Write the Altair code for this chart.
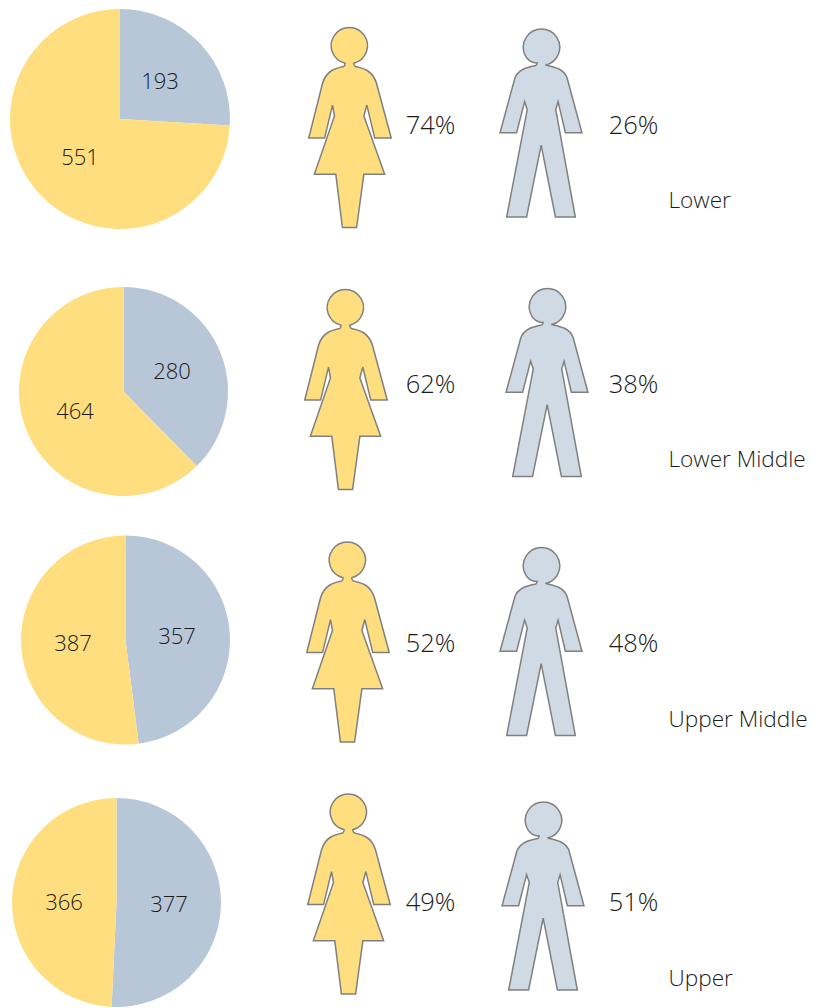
import math
import altair as alt
import pandas as pd

# ---- values ----
ROWS = ["Lower", "Lower Middle", "Upper Middle", "Upper"]
MEN = [193, 280, 357, 377]
WOMEN = [551, 464, 387, 366]
WOMEN_PCT = ["74%", "62%", "52%", "49%"]
MEN_PCT = ["26%", "38%", "48%", "51%"]

# ---- layout, in reference pixels ----
PIE_CX = [120, 123.5, 125.5, 116.5]
PIE_CY = [119, 391.5, 640, 902.5]
PIE_R = [110, 104.5, 104.5, 104.5]
MEN_LX = [160, 172, 177, 169]
MEN_LY = [82, 372, 637, 905]
WOMEN_LX = [80, 75, 73, 64]
WOMEN_LY = [158, 412, 644, 903]
WOMAN_CX = [350, 346, 348, 349]
WOMAN_CY = [128, 390, 642.5, 894.5]
MAN_CX = [541, 547, 541, 543]
MAN_CY = [123, 382.5, 641.5, 896]
PCT_Y = [126, 385, 644, 903]
PCT_WX = 430.5
PCT_MX = 633.5
ROW_LX = 668.5
ROW_LY = [201, 460, 720, 979]

YELLOW = "#FFDE80"
PIE_BLUE = "#B7C7D7"
MAN_BLUE = "#CFDAE4"
OUTLINE = "#808080"
INK = "#1C1C1C"
FONT = "Open Sans"

W, H = 803, 1000
xs = alt.Scale(domain=[8, 8 + W], range=[0, W])
ys = alt.Scale(domain=[8, 8 + H], range=[0, H])
X = lambda f: alt.X(f, type="quantitative", scale=xs, axis=None)
Y = lambda f: alt.Y(f, type="quantitative", scale=ys, axis=None)


def arc(cx, cy, r, a0, a1, n=6):
    out = []
    step = (a1 - a0) / n
    k = 4 / 3 * math.tan(step / 4)
    for i in range(n):
        s, e = a0 + i * step, a0 + (i + 1) * step
        p1 = (cx + r * (math.cos(s) - k * math.sin(s)), cy + r * (math.sin(s) + k * math.cos(s)))
        p2 = (cx + r * (math.cos(e) + k * math.sin(e)), cy + r * (math.sin(e) - k * math.cos(e)))
        p3 = (cx + r * math.cos(e), cy + r * math.sin(e))
        out.append(("C", p1, p2, p3))
    return out


def glyph(segments, cx, cy, half):
    f = lambda p: f"{(p[0] - cx) / half:.4f} {(p[1] - cy) / half:.4f}"
    d = []
    for s in segments:
        if s[0] in ("M", "L"):
            d.append(f"{s[0]}{f(s[1])}")
        else:
            d.append(f"C{f(s[1])} {f(s[2])} {f(s[3])}")
    return " ".join(d) + " Z"


a0 = math.radians(104)
a1 = math.radians(76 + 360)
woman_seg = [("M", (150, 125))] + arc(163, 72, 55, a0, a1) + [
    ("C", (176, 128), (178, 132), (181, 135)),
    ("C", (205, 140), (232, 146), (245, 185)),
    ("L", (290, 352)), ("L", (240, 352)), ("L", (216, 252)), ("L", (207, 285)),
    ("L", (270, 462)), ("L", (207, 462)), ("L", (185, 623)), ("L", (142, 623)),
    ("L", (122, 462)), ("L", (57, 462)), ("L", (118, 285)), ("L", (112, 252)),
    ("L", (88, 352)), ("L", (40, 352)), ("L", (82, 185)),
    ("C", (95, 146), (122, 140), (146, 135)),
    ("C", (150, 132), (150, 129), (150, 125)),
]
man_seg = [("M", (140, 127))] + arc(153, 80, 55, a0, a1) + [
    ("C", (166, 131), (168, 133), (170, 135)),
    ("C", (195, 140), (220, 146), (230, 172)),
    ("L", (275, 338)), ("L", (225, 338)), ("L", (203, 244)), ("L", (196, 268)),
    ("L", (255, 592)), ("L", (195, 592)), ("L", (152, 375)), ("L", (108, 592)),
    ("L", (48, 592)), ("L", (110, 268)), ("L", (102, 244)), ("L", (78, 338)),
    ("L", (28, 338)), ("L", (73, 172)),
    ("C", (85, 146), (110, 140), (136, 135)),
    ("C", (140, 132), (140, 130), (140, 127)),
]
WOMAN_H, MAN_H = 199, 188
WOMAN_PATH = glyph(woman_seg, 165, 321.5, 301.5)
MAN_PATH = glyph(man_seg, 151.5, 308.5, 283.5)

layers = []
for i in range(len(ROWS)):
    total = MEN[i] + WOMEN[i]
    frac = MEN[i] / total
    df = pd.DataFrame({
        "group": ["Men", "Women"],
        "start": [0, frac],
        "end": [frac, 1],
        "cx": [PIE_CX[i]] * 2,
        "cy": [PIE_CY[i]] * 2,
    })
    layers.append(
        alt.Chart(df).mark_arc(radius=PIE_R[i]).encode(
            x=X("cx"), y=Y("cy"),
            theta=alt.Theta("start:Q", stack=None, scale=alt.Scale(domain=[0, 1], range=[0, 2 * math.pi])),
            theta2="end:Q",
            color=alt.Color("group:N", legend=None,
                            scale=alt.Scale(domain=["Men", "Women"], range=[PIE_BLUE, YELLOW])),
        )
    )

women_fig = pd.DataFrame({"x": WOMAN_CX, "y": WOMAN_CY})
men_fig = pd.DataFrame({"x": MAN_CX, "y": MAN_CY})
layers.append(alt.Chart(women_fig).mark_point(
    shape=WOMAN_PATH, size=WOMAN_H ** 2, filled=True, fill=YELLOW, stroke=OUTLINE, strokeWidth=1.5, opacity=1
).encode(x=X("x"), y=Y("y")))
layers.append(alt.Chart(men_fig).mark_point(
    shape=MAN_PATH, size=MAN_H ** 2, filled=True, fill=MAN_BLUE, stroke=OUTLINE, strokeWidth=1.5, opacity=1
).encode(x=X("x"), y=Y("y")))

pie_text = pd.DataFrame({
    "x": MEN_LX + WOMEN_LX,
    "y": MEN_LY + WOMEN_LY,
    "t": [str(v) for v in MEN + WOMEN],
})
pct_text = pd.DataFrame({
    "x": [PCT_WX] * 4 + [PCT_MX] * 4,
    "y": PCT_Y + PCT_Y,
    "t": WOMEN_PCT + MEN_PCT,
})
row_text = pd.DataFrame({"x": [ROW_LX] * 4, "y": ROW_LY, "t": ROWS})

layers.append(alt.Chart(pie_text).mark_text(font=FONT, fontSize=22, fontWeight=300, color=INK, baseline="middle").encode(
    x=X("x"), y=Y("y"), text="t:N"))
layers.append(alt.Chart(pct_text).mark_text(font=FONT, fontSize=25.5, fontWeight=300, color=INK, baseline="middle").encode(
    x=X("x"), y=Y("y"), text="t:N"))
layers.append(alt.Chart(row_text).mark_text(font=FONT, fontSize=22.6, fontWeight=300, color=INK, baseline="middle", align="left").encode(
    x=X("x"), y=Y("y"), text="t:N"))

chart = alt.layer(*layers).properties(
    width=W, height=H, padding=0, autosize=alt.AutoSizeParams(type="none"), background="white"
).configure_view(stroke=None)

chart.save("out.html", embed_options={"renderer": "svg", "actions": False})
